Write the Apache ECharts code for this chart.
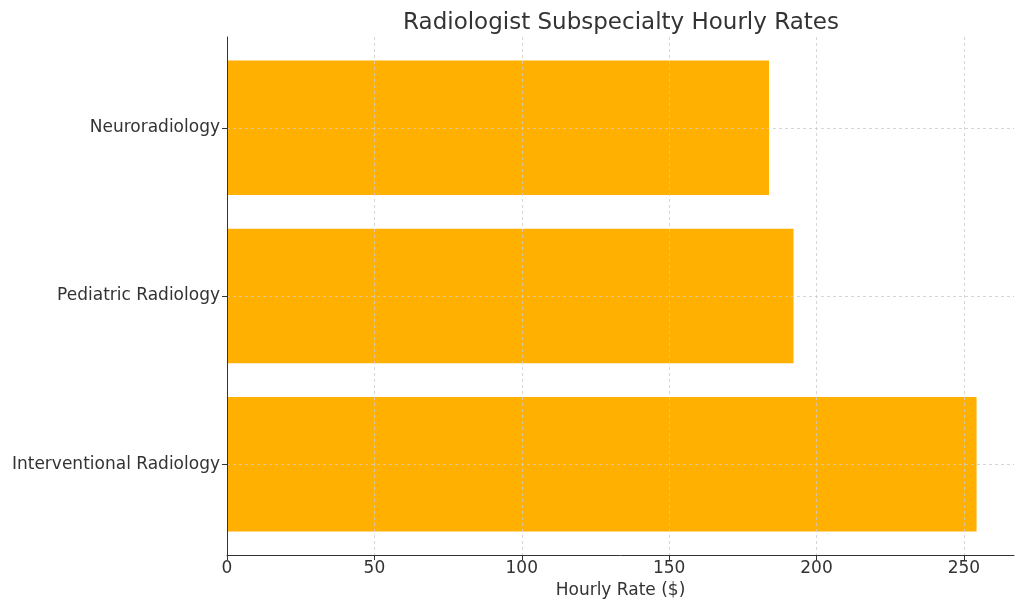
<!DOCTYPE html>
<html>
<head>
<meta charset="utf-8">
<script src="https://cdn.jsdelivr.net/npm/echarts@6/dist/echarts.min.js"></script>
<style>
  html, body { margin: 0; padding: 0; background: #fff; }
  #chart { width: 1024px; height: 611px; }
</style>
</head>
<body>
<div id="chart"></div>
<script>
// bottom to top, as in the picture
const categories = ["Interventional Radiology", "Pediatric Radiology", "Neuroradiology"];
const hourlyRates = [254.3, 192.2, 183.9];
const xTicks = [0, 50, 100, 150, 200, 250];

const myChart = echarts.init(document.getElementById("chart"));
const font = "DejaVu Sans";
const barData = hourlyRates.map((v, i) => [v, i]);
const catIdx = categories.map((c, i) => i);

const option = {
  animation: false,
  title: {
    text: "Radiologist Subspecialty Hourly Rates",
    left: 616,
    top: 7,
    textAlign: "center",
    textStyle: { fontFamily: font, fontSize: 23, fontWeight: "normal", color: "#333" },
  },
  grid: { left: 227, right: 10, top: 37, bottom: 56 },
  xAxis: {
    type: "value",
    min: 0,
    max: 267,
    z: 5,
    name: "Hourly Rate ($)",
    nameLocation: "middle",
    nameGap: 27,
    nameTextStyle: { fontFamily: font, fontSize: 17, color: "#333" },
    axisLine: { show: true, onZero: false, lineStyle: { color: "#333", width: 1 } },
    axisTick: { show: true, length: 5, customValues: xTicks, lineStyle: { color: "#333" } },
    axisLabel: { customValues: xTicks, fontFamily: font, fontSize: 17, color: "#333", margin: 5 },
    splitLine: { show: true, lineStyle: { color: "#ccc", type: [3, 3], width: 0.8 } },
  },
  yAxis: {
    type: "value",
    min: -0.54,
    max: 2.54,
    z: 5,
    axisLine: { show: true, onZero: false, lineStyle: { color: "#333", width: 1 } },
    axisTick: { show: true, length: 5, customValues: catIdx, lineStyle: { color: "#333" } },
    axisLabel: {
      customValues: catIdx,
      formatter: (v) => categories[Math.round(v)],
      fontFamily: font,
      fontSize: 17,
      color: "#333",
      margin: 7,
    },
    splitLine: { show: true, lineStyle: { color: "#ccc", type: [3, 3], width: 0.8 } },
  },
  series: [
    {
      type: "custom",
      data: barData,
      z: 2,
      renderItem: (params, api) => {
        const idx = api.value(1);
        const start = api.coord([0, idx]);
        const end = api.coord([api.value(0), idx]);
        const h = api.size([0, 0.8])[1];
        return {
          type: "rect",
          shape: { x: start[0], y: start[1] - h / 2, width: end[0] - start[0], height: h },
          style: { fill: "#FFB000" },
        };
      },
      encode: { x: 0, y: 1 },
    },
  ],
};
myChart.setOption(option);
</script>
</body>
</html>
